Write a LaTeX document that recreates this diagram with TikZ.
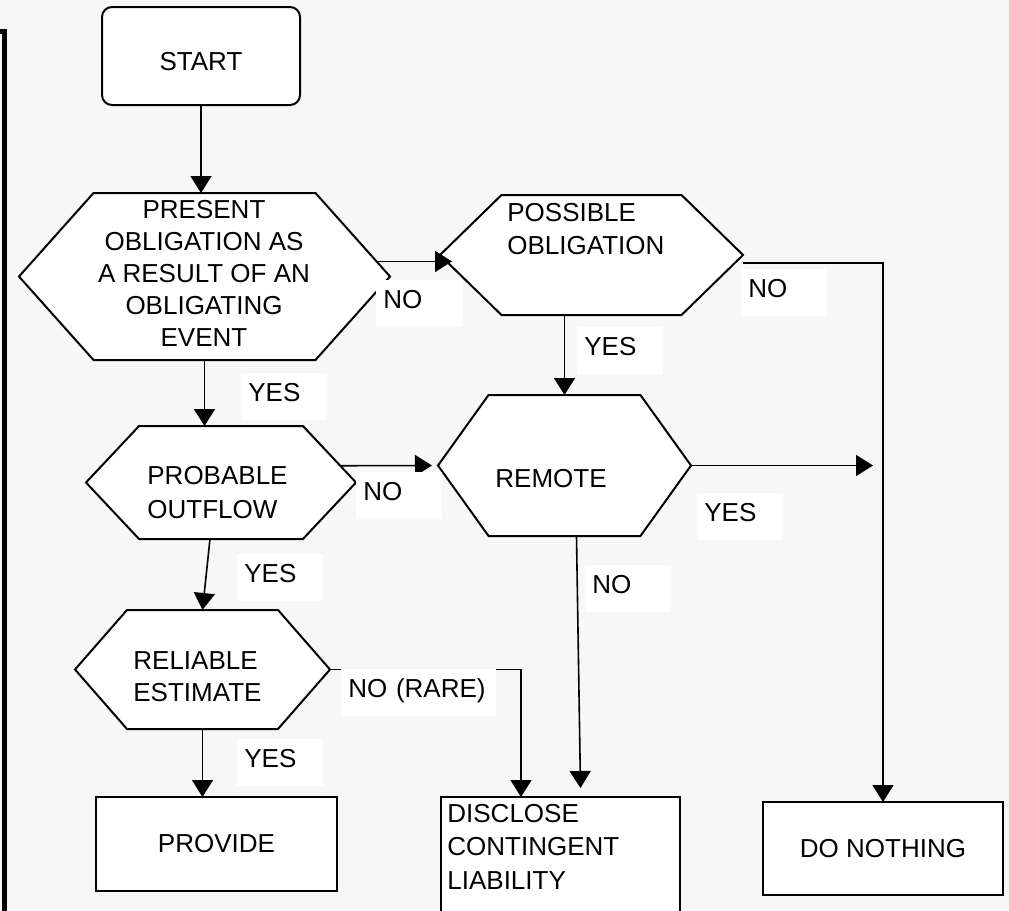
\documentclass[tikz,border=0pt]{standalone}
\usepackage{fontspec}
\setmainfont{Liberation Sans}
\usetikzlibrary{shapes.symbols,arrows.meta,calc}

\definecolor{pagegray}{RGB}{247,247,247}

\tikzset{
  box/.style={draw, line width=1pt, fill=white, inner sep=0pt, outer sep=0pt},
  hexbox/.style={box, shape=signal, signal to=east and west},
  arr/.style={line width=0.8pt, -{Triangle[length=8.5pt,width=10.5pt]}},
  txt/.style={inner sep=0pt, align=left},
  lbl/.style={fill=white, anchor=north west, inner xsep=3.5pt, inner ysep=0pt,
    text height=14pt, text depth=9.5pt, text width=36pt, align=left},
}

\begin{document}
\begin{tikzpicture}[x=0.5pt, y=-0.5pt, font=\fontsize{13}{16}\selectfont]
  \useasboundingbox (0,0) rectangle (1009,911);
  \clip (0,0) rectangle (1009,911);
  \fill[pagegray] (0,0) rectangle (1009,911);

  % frame edge on the left
  \draw[line width=2.5pt] (-10,31) -- (4.5,31) -- (4.5,930);

  % START
  \node[box, rounded corners=5pt, minimum width=99pt, minimum height=49pt] (start) at (201,56) {};
  \node[txt] (starttxt) at (201,62) {START};

  % decisions
  \node[hexbox, minimum width=185.5pt, minimum height=83.5pt, signal pointer angle=96.5] (present) at (204.5,276.5) {};
  \node[txt, align=center] (presenttxt) at (204,273.5) {PRESENT\\OBLIGATION AS\\A RESULT OF AN\\OBLIGATING\\EVENT};

  \node[hexbox, minimum width=151.5pt, minimum height=60pt, signal pointer angle=88.6] (possible) at (591.5,255) {};
  \node[txt, anchor=west, font=\fontsize{13}{16.5}\selectfont] (possibletxt) at (507,229.5) {POSSIBLE\\OBLIGATION};

  \node[hexbox, minimum width=135pt, minimum height=56.5pt, signal pointer angle=93.6] (probable) at (221,482.5) {};
  \node[txt, anchor=west, font=\fontsize{13}{17}\selectfont] (probabletxt) at (147,493) {PROBABLE\\OUTFLOW};

  \node[hexbox, minimum width=126.5pt, minimum height=70.5pt, signal pointer angle=108.7] (remote) at (564.5,465.5) {};
  \node[txt] (remotetxt) at (551,479) {REMOTE};

  \node[hexbox, minimum width=127.5pt, minimum height=59.5pt, signal pointer angle=97.7] (reliable) at (202.5,669.5) {};
  \node[txt, anchor=west] (reliabletxt) at (133,677) {RELIABLE\\ESTIMATE};

  % outcomes
  \node[box, minimum width=120.5pt, minimum height=47pt] (provide) at (216.5,844) {PROVIDE};
  \node[box, minimum width=119.5pt, minimum height=80pt, anchor=north west] (disclose) at (441,797) {};
  \node[txt, anchor=west, font=\fontsize{13}{16.75}\selectfont] (disclosetxt) at (447,846.5) {DISCLOSE\\CONTINGENT\\LIABILITY};
  \node[box, minimum width=120pt, minimum height=46.5pt] (nothing) at (883,848.5) {DO NOTHING};

  % connectors
  \draw[arr] (start.south) -- (start.south |- present.north);
  \draw[arr] (present.5) -- ($(present.5 -| possible.west)+(12,0)$);
  \draw[arr] ([yshift=-4pt]possible.east) -| (nothing.north);
  \draw[arr] (remote.north |- possible.south) -- (remote.north);
  \draw[arr] (present.south) -- (present.south |- probable.north);
  \draw[arr] (probable.8) -- ([xshift=-3pt]remote.west);
  \draw[arr] ([xshift=-5.5pt]probable.south) -- (reliable.north);
  \draw[arr] (reliable.south) -- (reliable.south |- provide.north);
  \draw[arr] (reliable.east) -| ([xshift=40pt]disclose.north west);
  \draw[arr] ([xshift=6pt]remote.south) -- ([xshift=10pt,yshift=4.5pt]disclose.north);
  \draw[arr] (remote.east) -- ([xshift=-5pt]remote.east -| nothing.north);

  % answers
  \foreach \n/\x/\y/\t in {
    yesa/241/373/YES, noa/376/280/NO, nob/741/269/NO, yesb/577/327/YES,
    noc/356/472/NO, yesc/237/554/YES, yesd/697/493/YES, nod/585/565/NO,
    yese/237/739/YES}
    \node[lbl] (\n) at (\x,\y) {\t};
  \node[lbl, text width=70.5pt] (norare) at (341,669) {NO (RARE)};
\end{tikzpicture}
\end{document}
